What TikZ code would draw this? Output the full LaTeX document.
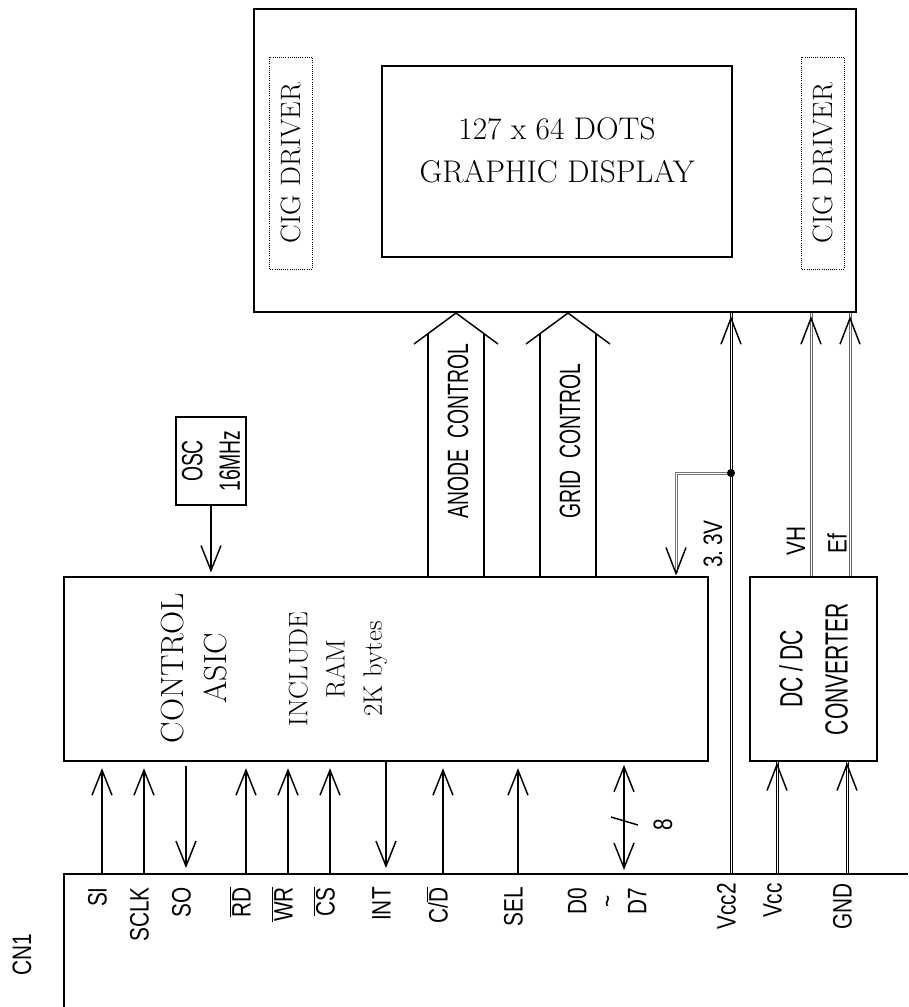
\documentclass[tikz,border=0pt]{standalone}
\usepackage{fontspec}
\usepackage{tikz}
\usetikzlibrary{arrows.meta,calc}
\newfontfamily\cadfont[FakeStretch=0.78]{Liberation Sans}
\newfontfamily\cadnarrow[FakeStretch=0.66]{Liberation Sans}
\newcommand{\ovl}[1]{$\overline{\mbox{#1}}$}

\begin{document}
\begin{tikzpicture}[x=0.75pt, y=-0.75pt,
  box/.style={draw, line width=0.8pt, inner sep=0pt, align=center},
  cig/.style={draw, densely dotted, line width=0.6pt, rotate=90, minimum width=159pt, minimum height=32.25pt, inner sep=0pt, font=\fontsize{21}{26}\selectfont},
  pin/.style={rotate=90, anchor=east, inner sep=0pt, text height=0.7em, text depth=0pt, font=\cadfont\fontsize{20}{24}\selectfont},
  lab/.style={rotate=90, anchor=west, inner sep=0pt, font=\cadfont\fontsize{20}{24}\selectfont},
  big/.style={rotate=90, anchor=west, inner sep=0pt, font=\cadnarrow\fontsize{22}{26}\selectfont},
  arr/.style={-{Straight Barb[length=18.75pt,width=15pt]}, line width=1.1pt},
  darr/.style={{Straight Barb[length=18.75pt,width=15pt]}-{Straight Barb[length=18.75pt,width=15pt]}, line width=1.1pt},
  rail/.style={line width=0.55pt},
  bus/.style={line width=1.1pt},
  uphead/.pic={\draw[line width=1.1pt] (-10,26) -- (0,0) -- (10,26);},
  dnhead/.pic={\draw[line width=1.1pt] (-10,-26) -- (0,0) -- (10,-26);}]
\useasboundingbox (0,0) rectangle (908,1007);
% display module
\node[box, line width=1.8pt, minimum width=451.5pt, minimum height=227.25pt] (disp) at (555,160.5) {};
\node[box, minimum width=262.5pt, minimum height=143.25pt] (screen) at (557,161.5) {};
\node[align=center, font=\fontsize{23.5}{32}\selectfont] (screentxt) at (557,150) {127 x 64 DOTS\\GRAPHIC DISPLAY};
\node[cig] (cigl) at (290.5,163) {CIG DRIVER};
\node[cig] (cigr) at (822.5,163) {CIG DRIVER};
% controller, oscillator, converter
\node[box, minimum width=483pt, minimum height=138pt] (asic) at (386,669) {};
\node[rotate=90, align=center, font=\fontsize{24}{32}\selectfont] (asictxt) at (194,668) {CONTROL\\ASIC};
\node[rotate=90, align=center, font=\fontsize{20}{28}\selectfont] (ramtxt) at (338,669) {INCLUDE\\RAM\\2K bytes};
\node[box, rotate=90, minimum width=66pt, minimum height=52.5pt, font=\cadnarrow\fontsize{22}{28}\selectfont] (osc) at (211,461) {OSC\\16MHz};
\node[box, rotate=90, minimum width=138pt, minimum height=95.25pt, font=\cadnarrow\fontsize{24}{34}\selectfont] (dcdc) at (813.5,669) {DC\,/\,DC\\CONVERTER};
% connector CN1
\coordinate (cnb) at (64,1007);
\coordinate (cnt) at (64,874);
\coordinate (cnr) at (908,874);
\draw[line width=1.5pt] (cnb) -- (cnt) -- (cnr);
\node[lab, anchor=center] (cn1) at (22,955) {CN1};
% pin names
\foreach \x/\t/\n in {102/{SI}/si, 144/{SCLK}/sclk, 186/{SO}/so, 246/{\ovl{RD}}/rd, 288/{\ovl{WR}}/wr, 330/{\ovl{CS}}/cs, 386/{INT}/int, 443/{C/\ovl{D}}/cd, 518/{SEL}/sel}
  \node[pin] (\n) at (\x,887) {\t};
\node[pin] (vcc2) at (731,883) {Vcc2};
\node[pin] (vcc) at (777,883) {Vcc};
\node[pin] (gnd) at (847,883) {GND};
\node[lab, anchor=east, align=center, font=\cadfont\fontsize{20}{22.5}\selectfont] (d07) at (607,888) {D0\\\textasciitilde\\D7};
% signal arrows
\foreach \n in {si,sclk,rd,wr,cs,cd,sel}
  \draw[arr, shorten >=5pt] (\n |- cnt) -- (\n |- asic.south);
\draw[arr, shorten <=3pt, shorten >=4.5pt] (so |- asic.south) -- (so |- cnt);
\draw[arr, shorten >=4.5pt] (int |- asic.south) -- (int |- cnt);
\coordinate (dbus) at (624,874);
\draw[darr, shorten <=3pt, shorten >=2.5pt] (dbus) -- (dbus |- asic.south);
\draw[line width=1.1pt] ($(dbus)+(-13,-57)$) -- ($(dbus)+(14,-49)$);
\node[lab, anchor=center] (w8) at (663,825) {8};
% oscillator
\draw[arr, shorten >=3pt] (osc.west) -- (osc.west |- asic.north);
% anode and grid buses
\coordinate (anode) at (456,313);
\coordinate (grid) at (568,313);
\foreach \b in {anode,grid} {
  \draw[bus] ($(\b)+(-42,31)$) -- (\b) -- ($(\b)+(42,31)$);
  \draw[bus] ($(\b)+(-28,20.7)$) -- ($(\b |- asic.north)+(-28,0)$);
  \draw[bus] ($(\b)+(28,20.7)$) -- ($(\b |- asic.north)+(28,0)$);
}
\node[big] (anodetxt) at (458,519) {ANODE\hspace{0.4em}CONTROL};
\node[big] (gridtxt) at (570,519) {GRID\hspace{0.4em}CONTROL};
% supply lines (two thin rails each)
\coordinate (v2b) at (vcc2 |- cnt);
\coordinate (v2t) at (vcc2 |- disp.south);
\foreach \s in {-1,1}
  \draw[rail] ($(v2b)+(\s,0)$) -- ($(v2t)+(\s,0)$);
\pic at ($(v2t)+(0,5)$) {uphead};
\coordinate (j33) at (vcc2 |- 0,473);
\coordinate (r33) at (676,473);
\coordinate (e33) at ($(r33 |- asic.north)+(0,-3)$);
\foreach \s in {-1,1}
  \draw[rail, black!55] ($(j33)+(0,\s)$) -- ($(r33)+(\s,\s)$) -- ($(e33)+(\s,0)$);
\fill (j33) circle (3pt);
\pic at (e33) {dnhead};
\node[lab] (v33) at (713,568) {3.\,3V};
\coordinate (vh) at (811,0);
\coordinate (ef) at (850,0);
\foreach \p in {vh,ef} {
  \foreach \s in {-1,1}
    \draw[rail, black!60] ($(\p |- dcdc.east)+(\s,0)$) -- ($(\p |- disp.south)+(\s,0)$);
  \pic at ($(\p |- disp.south)+(0,5)$) {uphead};
}
\node[lab] (vhtxt) at (796,556) {VH};
\node[lab] (eftxt) at (837,554) {Ef};
\foreach \p in {vcc,gnd} {
  \foreach \s in {-1,1}
    \draw[rail] ($(\p |- cnt)+(\s,0)$) -- ($(\p |- dcdc.west)+(\s,0)$);
  \pic at ($(\p |- dcdc.west)+(0,3)$) {uphead};
}
\end{tikzpicture}
\end{document}
